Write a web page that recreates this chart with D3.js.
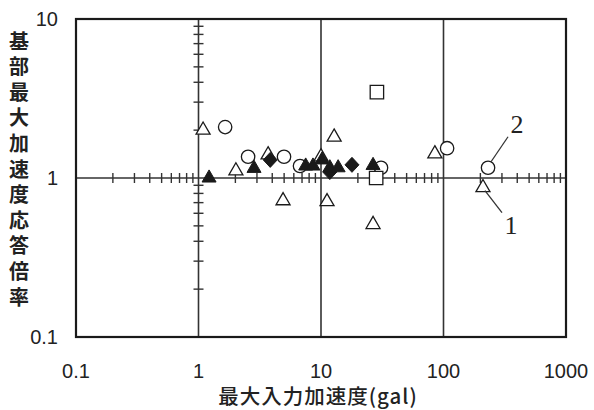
<!DOCTYPE html>
<html>
<head>
<meta charset="utf-8">
<script src="https://cdn.jsdelivr.net/npm/d3@7/dist/d3.min.js"></script>
<style>
  html, body { margin: 0; padding: 0; background: #fff; }
  svg { display: block; }
</style>
</head>
<body>
<svg id="chart" width="594" height="410"></svg>
<script>
// Series: peak input acceleration (gal) vs. base peak acceleration response ratio
const openTriX   = [1.09, 2.02, 3.7, 4.9, 10.0, 12.8, 11.2, 26.6, 85, 210];
const openTriY   = [2.0, 1.11, 1.40, 0.72, 1.36, 1.81, 0.71, 0.51, 1.42, 0.87];
const openCircX  = [1.65, 2.54, 4.99, 6.74, 30.9, 107, 231];
const openCircY  = [2.09, 1.36, 1.36, 1.19, 1.16, 1.54, 1.16];
const filledTriX = [1.22, 2.84, 7.5, 8.6, 10.2, 11.8, 13.8, 26.6];
const filledTriY = [1.0, 1.15, 1.19, 1.19, 1.30, 1.16, 1.16, 1.2];
const diamondX   = [3.85, 11.8, 17.9];
const diamondY   = [1.30, 1.09, 1.21];
const squareX    = [28.6, 28.2];
const squareY    = [3.47, 1.0];

const xTicks = [0.1, 1, 10, 100, 1000];
const xTickLabels = ["0.1", "1", "10", "100", "1000"];
const yTicks = [0.1, 1, 10];
const yTickLabels = ["0.1", "1", "10"];
const xTitle = "最大入力加速度(gal)";
const yTitle = "基部最大加速度応答倍率";
// Callout numbers: [label, index into series]
const callouts = [
  { text: "2", series: "circ", i: 6 },
  { text: "1", series: "tri", i: 9 }
];

const svg = d3.select("#chart");
const x = d3.scaleLog().domain([0.1, 1000]).range([76, 566]);
const y = d3.scaleLog().domain([0.1, 10]).range([337, 19]);
const ink = "#1a1a1a";

// Decade grid lines through x = 1, 10, 100 and y = 1
svg.append("g").selectAll("line").data([1, 10, 100]).join("line")
  .attr("x1", d => x(d)).attr("x2", d => x(d))
  .attr("y1", y(10)).attr("y2", y(0.1))
  .attr("stroke", "#333").attr("stroke-width", 1.6);
svg.append("line")
  .attr("x1", x(0.1)).attr("x2", x(1000))
  .attr("y1", y(1)).attr("y2", y(1))
  .attr("stroke", "#333").attr("stroke-width", 1.6);

// Minor log ticks crossing the y = 1 line
const minorX = [];
[0.1, 1, 10, 100].forEach(b => { for (let k = 2; k <= 9; k++) minorX.push(b * k); });
svg.append("g").selectAll("line").data(minorX).join("line")
  .attr("x1", d => x(d)).attr("x2", d => x(d))
  .attr("y1", y(1) - 5).attr("y2", y(1) + 5)
  .attr("stroke", "#333").attr("stroke-width", 1.4);

// Minor log ticks crossing the x = 1 line
const minorY = [];
[0.1, 1].forEach(b => { for (let k = 2; k <= 9; k++) minorY.push(b * k); });
svg.append("g").selectAll("line").data(minorY).join("line")
  .attr("x1", x(1) - 5).attr("x2", x(1) + 5)
  .attr("y1", d => y(d)).attr("y2", d => y(d))
  .attr("stroke", "#333").attr("stroke-width", 1.4);

// Frame
svg.append("rect")
  .attr("x", x(0.1)).attr("y", y(10))
  .attr("width", x(1000) - x(0.1)).attr("height", y(0.1) - y(10))
  .attr("fill", "none").attr("stroke", ink).attr("stroke-width", 2.2);

// Tick labels
svg.append("g").selectAll("text").data(xTicks).join("text")
  .attr("x", d => x(d)).attr("y", 378)
  .attr("text-anchor", "middle")
  .attr("font-family", "'Liberation Sans', Arial, sans-serif")
  .attr("font-size", 20).attr("fill", "#222")
  .text((d, i) => xTickLabels[i]);
svg.append("g").selectAll("text").data(yTicks).join("text")
  .attr("x", 58).attr("y", d => y(d) + 7)
  .attr("text-anchor", "end")
  .attr("font-family", "'Liberation Sans', Arial, sans-serif")
  .attr("font-size", 20).attr("fill", "#222")
  .text((d, i) => yTickLabels[i]);

// Axis titles
svg.append("text")
  .attr("x", 318).attr("y", 404)
  .attr("text-anchor", "middle")
  .attr("font-family", "'Noto Sans CJK JP', sans-serif")
  .attr("font-size", 20.5).attr("font-weight", 500)
  .attr("letter-spacing", 1).attr("fill", "#222")
  .text(xTitle);
svg.append("text")
  .attr("x", 19).attr("y", 31)
  .attr("writing-mode", "vertical-rl")
  .style("text-orientation", "upright")
  .attr("letter-spacing", 5.6)
  .attr("font-family", "'Noto Sans CJK JP', sans-serif")
  .attr("font-size", 20).attr("font-weight", 700).attr("fill", "#222")
  .text(yTitle);

// Marker shapes
const triSym = d3.symbol().type(d3.symbolTriangle).size(85);
const diaPath = "M0,-7.5L7,0L0,7.5L-7,0Z";
const sqSym  = d3.symbol().type(d3.symbolSquare).size(180);
const pts = (xs, ys) => xs.map((v, i) => ({ x: v, y: ys[i] }));

svg.append("g").selectAll("path").data(pts(openTriX, openTriY)).join("path")
  .attr("d", triSym)
  .attr("transform", d => `translate(${x(d.x)},${y(d.y)})`)
  .attr("fill", "#fff").attr("stroke", ink).attr("stroke-width", 1.3);

svg.append("g").selectAll("circle").data(pts(openCircX, openCircY)).join("circle")
  .attr("cx", d => x(d.x)).attr("cy", d => y(d.y)).attr("r", 6.7)
  .attr("fill", "#fff").attr("stroke", ink).attr("stroke-width", 1.3);

svg.append("g").selectAll("path").data(pts(diamondX, diamondY)).join("path")
  .attr("d", diaPath)
  .attr("transform", d => `translate(${x(d.x)},${y(d.y)})`)
  .attr("fill", ink).attr("stroke", ink).attr("stroke-width", 1);

svg.append("g").selectAll("path").data(pts(filledTriX, filledTriY)).join("path")
  .attr("d", triSym)
  .attr("transform", d => `translate(${x(d.x)},${y(d.y)})`)
  .attr("fill", ink).attr("stroke", ink).attr("stroke-width", 1);

svg.append("g").selectAll("path").data(pts(squareX, squareY)).join("path")
  .attr("d", sqSym)
  .attr("transform", d => `translate(${x(d.x)},${y(d.y)})`)
  .attr("fill", "#fff").attr("stroke", ink).attr("stroke-width", 1.3);

// Callout numbers with leader lines
const seriesPts = { circ: pts(openCircX, openCircY), tri: pts(openTriX, openTriY) };
callouts.forEach(c => {
  const p = seriesPts[c.series][c.i];
  const px = x(p.x), py = y(p.y);
  if (c.series === "circ") {
    svg.append("line")
      .attr("x1", px + 3).attr("y1", py - 6).attr("x2", px + 20).attr("y2", py - 31)
      .attr("stroke", "#333").attr("stroke-width", 1.3);
    svg.append("text").attr("x", px + 29).attr("y", py - 35)
      .attr("text-anchor", "middle")
      .attr("font-family", "'Liberation Serif', 'Times New Roman', serif")
      .attr("font-size", 26).attr("fill", "#222").text(c.text);
  } else {
    svg.append("line")
      .attr("x1", px + 2).attr("y1", py + 3).attr("x2", px + 19).attr("y2", py + 25)
      .attr("stroke", "#333").attr("stroke-width", 1.3);
    svg.append("text").attr("x", px + 28).attr("y", py + 46)
      .attr("text-anchor", "middle")
      .attr("font-family", "'Liberation Serif', 'Times New Roman', serif")
      .attr("font-size", 26).attr("fill", "#222").text(c.text);
  }
});
</script>
</body>
</html>
